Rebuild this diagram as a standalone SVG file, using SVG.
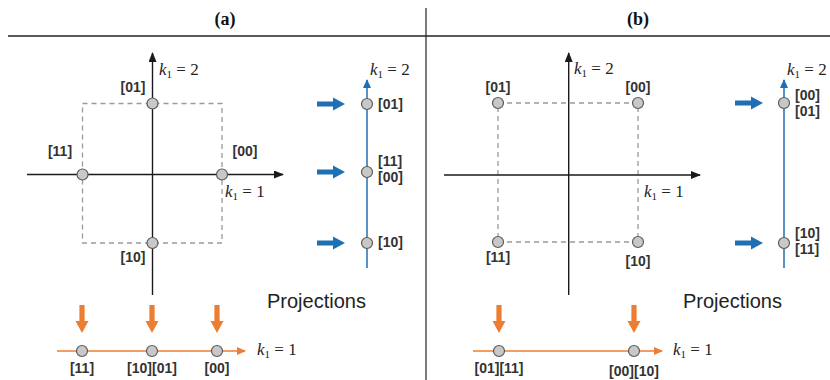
<svg xmlns="http://www.w3.org/2000/svg" width="830" height="380" viewBox="0 0 830 380">
<style>
.ax{stroke:#1a1a1a;stroke-width:1.4;fill:none}
.dash{stroke:#9a9a9a;stroke-width:1.3;stroke-dasharray:5,4;fill:none}
.nd{fill:#c8c8c8;stroke:#5a5a5a;stroke-width:1.2}
.lb{font-family:"Liberation Sans",Arial,sans-serif;font-weight:bold;font-size:14px;fill:#333}
.kl{font-family:"Liberation Serif","Times New Roman",serif;font-size:17px;fill:#222}
.kl .k{font-style:italic}
.bl{stroke:#1f6fb4;stroke-width:1.5;fill:none}
.or{stroke:#ed7d31;stroke-width:1.5;fill:none}
.barr{fill:#1f6fb4}
.oarr{fill:#ed7d31}
.ttl{font-family:"Liberation Serif","Times New Roman",serif;font-weight:bold;font-size:18px;fill:#111}
.pj{font-family:"Liberation Sans",Arial,sans-serif;font-size:20px;fill:#222}
</style>
<defs>
<marker id="ah" markerWidth="10" markerHeight="8" refX="9" refY="4" orient="auto" markerUnits="userSpaceOnUse"><path d="M0,0 L10,4 L0,8 Z" fill="#1a1a1a"/></marker>
<marker id="ahb" markerWidth="9" markerHeight="8" refX="8" refY="4" orient="auto" markerUnits="userSpaceOnUse"><path d="M0,0 L9,4 L0,8 Z" fill="#1f6fb4"/></marker>
<marker id="aho" markerWidth="9" markerHeight="8" refX="8" refY="4" orient="auto" markerUnits="userSpaceOnUse"><path d="M0,0 L9,4 L0,8 Z" fill="#ed7d31"/></marker>
<path id="rarr" d="M0,-2.6 L16,-2.6 L16,-6.5 L28,0 L16,6.5 L16,2.6 L0,2.6 Z"/>
<path id="darr" d="M-2.6,0 L-2.6,16 L-6.5,16 L0,28 L6.5,16 L2.6,16 L2.6,0 Z"/>
</defs>

<g id="frame">
<line x1="8" y1="36" x2="830" y2="36" stroke="#222" stroke-width="1.3"/>
<line x1="426" y1="8" x2="426" y2="380" stroke="#222" stroke-width="1.2"/>
<text class="ttl" x="225" y="25" text-anchor="middle">(a)</text>
<text class="ttl" x="638" y="25" text-anchor="middle">(b)</text>
</g>

<g id="connectors">
<!-- (a) -->
<rect class="dash" x="82.5" y="103.5" width="139.5" height="139.5"/>
<line class="ax" x1="152.5" y1="295" x2="152.5" y2="53" marker-end="url(#ah)"/>
<line class="ax" x1="27" y1="174.5" x2="283" y2="174.5" marker-end="url(#ah)"/>
<line class="bl" x1="367" y1="268" x2="367" y2="80" marker-end="url(#ahb)"/>
<line class="or" x1="57" y1="351" x2="245" y2="351" marker-end="url(#aho)"/>
<use href="#rarr" class="barr" x="317" y="104"/>
<use href="#rarr" class="barr" x="317" y="172"/>
<use href="#rarr" class="barr" x="317" y="243"/>
<use href="#darr" class="oarr" x="82" y="305"/>
<use href="#darr" class="oarr" x="152" y="305"/>
<use href="#darr" class="oarr" x="217" y="305"/>
<!-- (b) -->
<rect class="dash" x="498" y="103" width="140" height="139"/>
<line class="ax" x1="568.7" y1="295" x2="568.7" y2="53" marker-end="url(#ah)"/>
<line class="ax" x1="444" y1="175" x2="700" y2="175" marker-end="url(#ah)"/>
<line class="bl" x1="784" y1="268" x2="784" y2="80" marker-end="url(#ahb)"/>
<line class="or" x1="473" y1="351" x2="662" y2="351" marker-end="url(#aho)"/>
<use href="#rarr" class="barr" x="735" y="103"/>
<use href="#rarr" class="barr" x="735" y="243"/>
<use href="#darr" class="oarr" x="499" y="305"/>
<use href="#darr" class="oarr" x="634" y="305"/>
</g>

<g id="a-labels">
<text class="kl" x="159" y="75"><tspan class="k">k</tspan><tspan font-size="11" dy="3">1</tspan><tspan dy="-3"> = 2</tspan></text>
<text class="kl" x="225" y="197"><tspan class="k">k</tspan><tspan font-size="11" dy="3">1</tspan><tspan dy="-3"> = 1</tspan></text>
<text class="kl" x="370" y="75"><tspan class="k">k</tspan><tspan font-size="11" dy="3">1</tspan><tspan dy="-3"> = 2</tspan></text>
<text class="kl" x="257" y="355"><tspan class="k">k</tspan><tspan font-size="11" dy="3">1</tspan><tspan dy="-3"> = 1</tspan></text>
<text class="pj" x="267" y="308">Projections</text>
</g>

<g id="a-n01"><circle class="nd" cx="152.5" cy="103.5" r="5.5"/><text class="lb" x="133" y="92" text-anchor="middle">[01]</text></g>
<g id="a-n11"><circle class="nd" cx="82.5" cy="174.5" r="5.5"/><text class="lb" x="60" y="156" text-anchor="middle">[11]</text></g>
<g id="a-n00"><circle class="nd" cx="222" cy="174.5" r="5.5"/><text class="lb" x="245" y="156" text-anchor="middle">[00]</text></g>
<g id="a-n10"><circle class="nd" cx="152.5" cy="243" r="5.5"/><text class="lb" x="133" y="262" text-anchor="middle">[10]</text></g>

<g id="a-p1"><circle class="nd" cx="367" cy="104" r="5.5"/><text class="lb" x="378" y="109">[01]</text></g>
<g id="a-p2"><circle class="nd" cx="367" cy="172" r="5.5"/><text class="lb" x="378" y="166">[11]</text><text class="lb" x="378" y="182">[00]</text></g>
<g id="a-p3"><circle class="nd" cx="367" cy="243" r="5.5"/><text class="lb" x="378" y="247">[10]</text></g>

<g id="a-q1"><circle class="nd" cx="82" cy="351" r="5.5"/><text class="lb" x="82" y="373" text-anchor="middle">[11]</text></g>
<g id="a-q2"><circle class="nd" cx="152" cy="351" r="5.5"/><text class="lb" x="152" y="373" text-anchor="middle">[10][01]</text></g>
<g id="a-q3"><circle class="nd" cx="217" cy="351" r="5.5"/><text class="lb" x="217" y="373" text-anchor="middle">[00]</text></g>

<g id="b-labels">
<text class="kl" x="574" y="74"><tspan class="k">k</tspan><tspan font-size="11" dy="3">1</tspan><tspan dy="-3"> = 2</tspan></text>
<text class="kl" x="644" y="197"><tspan class="k">k</tspan><tspan font-size="11" dy="3">1</tspan><tspan dy="-3"> = 1</tspan></text>
<text class="kl" x="787" y="75"><tspan class="k">k</tspan><tspan font-size="11" dy="3">1</tspan><tspan dy="-3"> = 2</tspan></text>
<text class="kl" x="673" y="355"><tspan class="k">k</tspan><tspan font-size="11" dy="3">1</tspan><tspan dy="-3"> = 1</tspan></text>
<text class="pj" x="683" y="308">Projections</text>
</g>

<g id="b-n01"><circle class="nd" cx="498" cy="103" r="5.5"/><text class="lb" x="498" y="92" text-anchor="middle">[01]</text></g>
<g id="b-n00"><circle class="nd" cx="638" cy="103" r="5.5"/><text class="lb" x="638" y="92" text-anchor="middle">[00]</text></g>
<g id="b-n11"><circle class="nd" cx="498" cy="242" r="5.5"/><text class="lb" x="498" y="262" text-anchor="middle">[11]</text></g>
<g id="b-n10"><circle class="nd" cx="638" cy="242" r="5.5"/><text class="lb" x="638" y="266" text-anchor="middle">[10]</text></g>

<g id="b-p1"><circle class="nd" cx="784" cy="103" r="5.5"/><text class="lb" x="795" y="100">[00]</text><text class="lb" x="795" y="116">[01]</text></g>
<g id="b-p2"><circle class="nd" cx="784" cy="243" r="5.5"/><text class="lb" x="795" y="238">[10]</text><text class="lb" x="795" y="254">[11]</text></g>

<g id="b-q1"><circle class="nd" cx="499" cy="351" r="5.5"/><text class="lb" x="499" y="373" text-anchor="middle">[01][11]</text></g>
<g id="b-q2"><circle class="nd" cx="634" cy="351" r="5.5"/><text class="lb" x="634" y="376" text-anchor="middle">[00][10]</text></g>
</svg>
